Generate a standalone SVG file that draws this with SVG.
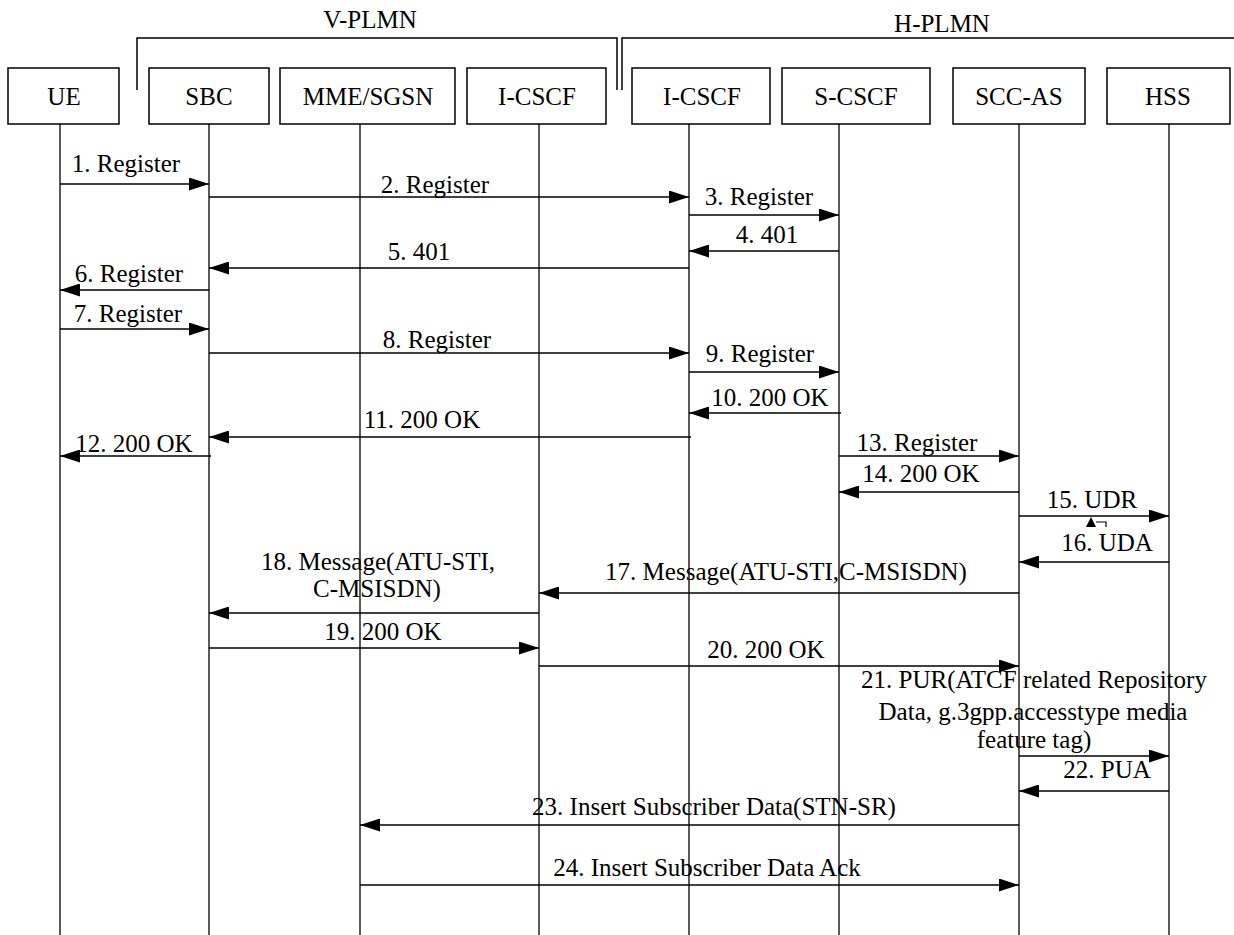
<svg xmlns="http://www.w3.org/2000/svg" width="1234" height="935" viewBox="0 0 1234 935">
<defs>
<marker id="ah" markerUnits="userSpaceOnUse" markerWidth="20" markerHeight="13" viewBox="0 0 20 13" refX="20" refY="6.5" orient="auto"><path d="M0,0 L20,6.5 L0,13 Z" fill="#000"/></marker>
</defs>
<style>
text{font-family:'Liberation Serif','Times New Roman','DejaVu Serif',serif;font-size:25px;fill:#000}
.m{text-anchor:middle}
.box{fill:#fff;stroke:#000;stroke-width:1.5}
.life{stroke:#000;stroke-width:1.3}
.br{fill:none;stroke:#000;stroke-width:1.5}
.msg{stroke:#000;stroke-width:1.5;marker-end:url(#ah)}
</style>
<rect width="1234" height="935" fill="#fff"/>
<g id="domains" font-family="Liberation Serif, serif">
<text class="m" x="370" y="28">V-PLMN</text>
<path class="br" d="M137,90 V38 H617 V90"/>
<text class="m" x="942" y="32">H-PLMN</text>
<path class="br" d="M622,90 V38 H1234"/>
</g>
<g id="lifelines">
<line class="life" x1="60" y1="124" x2="60" y2="935"/>
<line class="life" x1="209" y1="124" x2="209" y2="935"/>
<line class="life" x1="360" y1="124" x2="360" y2="935"/>
<line class="life" x1="539" y1="124" x2="539" y2="935"/>
<line class="life" x1="689" y1="124" x2="689" y2="935"/>
<line class="life" x1="839" y1="124" x2="839" y2="935"/>
<line class="life" x1="1019" y1="124" x2="1019" y2="935"/>
<line class="life" x1="1169" y1="124" x2="1169" y2="935"/>
</g>
<g id="UE" font-family="Liberation Serif, serif"><rect class="box" x="8" y="68" width="111" height="56"/><text class="m" x="64" y="105">UE</text></g>
<g id="SBC" font-family="Liberation Serif, serif"><rect class="box" x="149" y="68" width="120" height="56"/><text class="m" x="209" y="105">SBC</text></g>
<g id="MME" font-family="Liberation Serif, serif"><rect class="box" x="280" y="68" width="175" height="56"/><text class="m" x="368" y="105">MME/SGSN</text></g>
<g id="ICSCF-V" font-family="Liberation Serif, serif"><rect class="box" x="467" y="68" width="139" height="56"/><text class="m" x="537" y="105">I-CSCF</text></g>
<g id="ICSCF-H" font-family="Liberation Serif, serif"><rect class="box" x="632" y="68" width="138" height="56"/><text class="m" x="702" y="105">I-CSCF</text></g>
<g id="SCSCF" font-family="Liberation Serif, serif"><rect class="box" x="782" y="68" width="148" height="56"/><text class="m" x="856" y="105">S-CSCF</text></g>
<g id="SCCAS" font-family="Liberation Serif, serif"><rect class="box" x="953" y="68" width="132" height="56"/><text class="m" x="1019" y="105">SCC-AS</text></g>
<g id="HSS" font-family="Liberation Serif, serif"><rect class="box" x="1107" y="68" width="123" height="56"/><text class="m" x="1168" y="105">HSS</text></g>
<g id="connectors">
<line class="msg" x1="60" y1="184" x2="209" y2="184"/>
<line class="msg" x1="209" y1="197" x2="689" y2="197"/>
<line class="msg" x1="689" y1="215" x2="839" y2="215"/>
<line class="msg" x1="839" y1="251" x2="689" y2="251"/>
<line class="msg" x1="689" y1="268" x2="209" y2="268"/>
<line class="msg" x1="209" y1="290" x2="60" y2="290"/>
<line class="msg" x1="60" y1="329" x2="209" y2="329"/>
<line class="msg" x1="209" y1="353" x2="689" y2="353"/>
<line class="msg" x1="689" y1="372" x2="839" y2="372"/>
<line class="msg" x1="841" y1="413" x2="689" y2="413"/>
<line class="msg" x1="691" y1="437" x2="209" y2="437"/>
<line class="msg" x1="211" y1="456" x2="60" y2="456"/>
<line class="msg" x1="839" y1="456" x2="1019" y2="456"/>
<line class="msg" x1="1019" y1="492" x2="839" y2="492"/>
<line class="msg" x1="1019" y1="516" x2="1169" y2="516"/>
<path d="M1096,522 H1106 V527" fill="none" stroke="#000" stroke-width="1.2"/>
<path d="M1086,527 L1091,517 L1096,527 Z" fill="#000"/>
<line class="msg" x1="1169" y1="562" x2="1019" y2="562"/>
<line class="msg" x1="1019" y1="593" x2="539" y2="593"/>
<line class="msg" x1="539" y1="613" x2="209" y2="613"/>
<line class="msg" x1="209" y1="648" x2="539" y2="648"/>
<line class="msg" x1="539" y1="666" x2="1019" y2="666"/>
<line class="msg" x1="1019" y1="756" x2="1169" y2="756"/>
<line class="msg" x1="1169" y1="791" x2="1019" y2="791"/>
<line class="msg" x1="1019" y1="825" x2="360" y2="825"/>
<line class="msg" x1="360" y1="885" x2="1019" y2="885"/>
</g>
<g id="labels" font-family="Liberation Serif, serif">
<text class="m" x="126" y="172">1. Register</text>
<text class="m" x="435" y="193">2. Register</text>
<text class="m" x="759" y="205">3. Register</text>
<text class="m" x="767" y="243">4. 401</text>
<text class="m" x="419" y="260">5. 401</text>
<text class="m" x="129" y="282">6. Register</text>
<text class="m" x="128" y="322">7. Register</text>
<text class="m" x="437" y="348">8. Register</text>
<text class="m" x="760" y="362">9. Register</text>
<text class="m" x="770" y="406">10. 200 OK</text>
<text class="m" x="422" y="428">11. 200 OK</text>
<text class="m" x="134" y="452">12. 200 OK</text>
<text class="m" x="917" y="451">13. Register</text>
<text class="m" x="921" y="482">14. 200 OK</text>
<text class="m" x="1092" y="508">15. UDR</text>
<text class="m" x="1107" y="551">16. UDA</text>
<text class="m" x="786" y="580">17. Message(ATU-STI,C-MSISDN)</text>
<text class="m" x="378" y="570">18. Message(ATU-STI,</text>
<text class="m" x="377" y="597">C-MSISDN)</text>
<text class="m" x="383" y="640">19. 200 OK</text>
<text class="m" x="766" y="658">20. 200 OK</text>
<text class="m" x="1034" y="688">21. PUR(ATCF related Repository</text>
<text class="m" x="1033" y="720">Data, g.3gpp.accesstype media</text>
<text class="m" x="1034" y="748">feature tag)</text>
<text class="m" x="1107" y="778">22. PUA</text>
<text class="m" x="714" y="815">23. Insert Subscriber Data(STN-SR)</text>
<text class="m" x="707" y="876">24. Insert Subscriber Data Ack</text>
</g>
</svg>
